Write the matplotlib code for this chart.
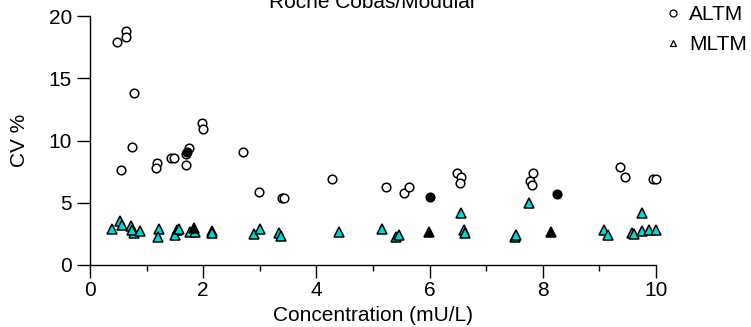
import matplotlib
matplotlib.use('Agg')
import matplotlib.pyplot as plt
from matplotlib.lines import Line2D

plt.rcParams['font.family'] = ['Liberation Sans', 'DejaVu Sans']

# ALTM (open circles)
altm_x = [0.48, 0.63, 0.63, 0.78, 0.74, 0.54, 1.18, 1.16, 1.43, 1.48, 1.70, 1.75,
          1.70, 1.97, 1.99, 2.71, 2.99, 3.39, 3.42, 4.28, 5.23, 5.55, 5.63,
          6.49, 6.55, 6.54, 7.82, 7.77, 7.81, 9.36, 9.45, 9.94, 10.0]
altm_y = [17.9, 18.8, 18.3, 13.8, 9.45, 7.6, 8.2, 7.8, 8.6, 8.6, 8.0, 9.4,
          8.9, 11.4, 10.9, 9.1, 5.86, 5.4, 5.4, 6.9, 6.24, 5.8, 6.3,
          7.4, 7.1, 6.56, 7.36, 6.75, 6.43, 7.9, 7.1, 6.93, 6.9]

# ALTM highlighted (filled circles)
altm_hi_x = [1.71, 6.01, 8.25]
altm_hi_y = [9.05, 5.46, 5.7]

# MLTM (cyan triangles)
mltm_x = [0.38, 0.53, 0.56, 0.72, 0.77, 0.74, 0.88, 1.22, 1.21, 1.53, 1.50, 1.57,
          1.77, 1.86, 2.15, 2.16, 2.90, 3.00, 3.34, 3.37, 4.40, 5.16, 5.40,
          5.46, 6.55, 6.61, 6.62, 7.50, 7.53, 7.76, 9.09, 9.15, 9.58, 9.62,
          9.75, 9.76, 9.88, 10.0]
mltm_y = [2.86, 3.53, 3.19, 3.13, 2.54, 2.8, 2.73, 2.86, 2.22, 2.81, 2.41, 2.89,
          2.68, 2.68, 2.73, 2.54, 2.46, 2.86, 2.54, 2.33, 2.62, 2.86, 2.28,
          2.41, 4.15, 2.81, 2.54, 2.22, 2.41, 4.95, 2.81, 2.41, 2.54, 2.46,
          4.2, 2.73, 2.81, 2.81]

# MLTM highlighted (black triangles)
mltm_hi_x = [1.83, 5.99, 8.15]
mltm_hi_y = [3.0, 2.68, 2.68]

fs = 15

fig = plt.figure(figsize=(7.51, 3.27), dpi=100)
ax = fig.add_axes([90 / 751, 62 / 327, 566 / 751, 249 / 327])

ax.plot(altm_x, altm_y, 'o', ms=6.2, mfc='white', mec='black', mew=1.1, ls='none', clip_on=False)
ax.plot(altm_hi_x, altm_hi_y, 'o', ms=6.2, mfc='black', mec='black', mew=1.1, ls='none', clip_on=False)
ax.plot(mltm_x, mltm_y, '^', ms=6.8, mfc='#00d8d8', mec='black', mew=1.1, ls='none', clip_on=False)
ax.plot(mltm_hi_x, mltm_hi_y, '^', ms=6.8, mfc='black', mec='black', mew=1.1, ls='none', clip_on=False)

ax.set_xlim(0, 10)
ax.set_ylim(0, 20)
ax.set_xticks([0, 2, 4, 6, 8, 10])
ax.set_xticks([1, 3, 5, 7, 9], minor=True)
ax.set_yticks([0, 5, 10, 15, 20])
for s in ['top', 'right']:
    ax.spines[s].set_visible(False)
for s in ['left', 'bottom']:
    ax.spines[s].set_linewidth(1.0)
ax.tick_params(axis='both', which='major', direction='out', length=9.5, width=1.0,
               labelsize=fs)
ax.tick_params(axis='x', which='major', pad=2)
ax.tick_params(axis='y', which='major', pad=3.5)
ax.tick_params(axis='x', which='minor', direction='out', length=4.3, width=1.0)

ax.set_xlabel('Concentration (mU/L)', fontsize=fs, labelpad=4)
ax.set_ylabel('CV %', fontsize=fs, labelpad=14)
ax.set_title('Roche Cobas/Modular', fontsize=fs, pad=6)

handles = [Line2D([], [], marker='o', ls='none', ms=5, mfc='white', mec='black', mew=0.9),
           Line2D([], [], marker='^', ls='none', ms=5, mfc='white', mec='black', mew=0.9)]
fig.legend(handles, ['ALTM', 'MLTM'], loc='upper left',
           bbox_to_anchor=(665 / 751, 1 - 5 / 327),
           frameon=False, fontsize=fs, handlelength=0.8, handletextpad=0.36,
           labelspacing=0.54, borderaxespad=0, borderpad=0)

fig.savefig('out.png', dpi=100)
